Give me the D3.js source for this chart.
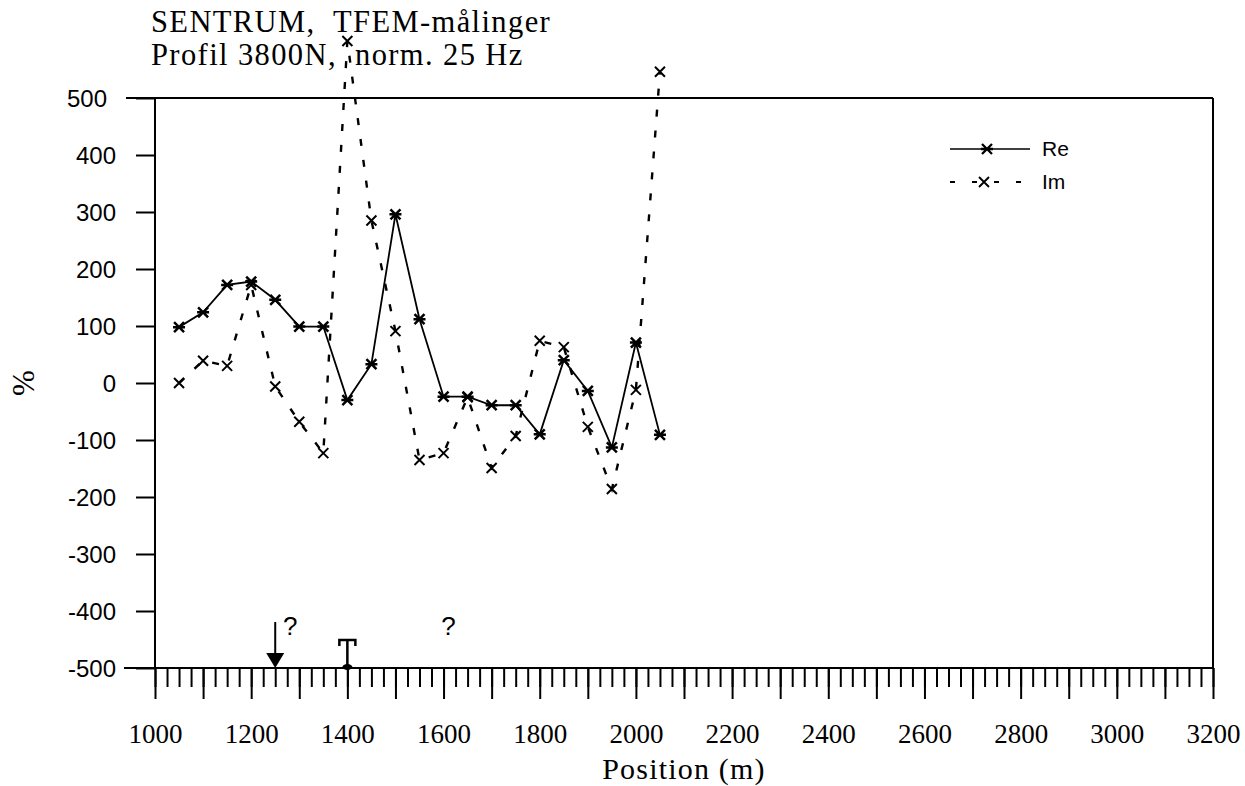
<!DOCTYPE html>
<html>
<head>
<meta charset="utf-8">
<script src="https://cdn.jsdelivr.net/npm/d3@7"></script>
<style>
  body { margin: 0; background: #fff; }
  svg text { white-space: pre; }
</style>
</head>
<body>
<svg id="chart" width="1245" height="786"></svg>
<script>
// Profile positions (m) and normalised TFEM responses (%)
const positions = [1050, 1100, 1150, 1200, 1250, 1300, 1350, 1400, 1450, 1500, 1550,
                   1600, 1650, 1700, 1750, 1800, 1850, 1900, 1950, 2000, 2050];
const reValues = [98, 124, 172, 178, 146, 99, 99, -30, 33, 296, 112,
                  -24, -24, -39, -39, -90, 40, -14, -113, 71, -91];
const imValues = [0, 39, 30, 172, -6, -68, -123, 600, 285, 91, -135,
                  -123, -25, -149, -93, 74, 63, -77, -186, -12, 546];

const xLabelTicks = d3.range(1000, 3201, 200);
const xMidTicks = d3.range(1000, 3201, 100);
const xMinorTicks = d3.range(1000, 3201, 25);
const yTicks = d3.range(-500, 501, 100);

const titleLines = ["SENTRUM,  TFEM-målinger", "Profil 3800N,  norm. 25 Hz"];
const seriesNames = ["Re", "Im"];
const xTitle = "Position (m)";
const yTitle = "%";

// Markers along the profile line
const arrowPos = 1250;
const tPos = 1400;
const queryPos = [1250, 1600];

const serif = "'Liberation Serif', 'Times New Roman', serif";
const sans = "'Liberation Sans', Arial, Helvetica, sans-serif";

const svg = d3.select("#chart");
const x = d3.scaleLinear().domain([1000, 3200]).range([155, 1213]);
const y = d3.scaleLinear().domain([-500, 500]).range([668, 98]);

// Frame: left axis, top and right border, baseline
const frame = svg.append("g").attr("stroke", "#000").attr("stroke-width", 2).attr("fill", "none");
frame.append("line").attr("x1", 126).attr("x2", x(3200)).attr("y1", y(500)).attr("y2", y(500));
frame.append("line").attr("x1", 124).attr("x2", x(3200)).attr("y1", y(-500)).attr("y2", y(-500));
frame.append("line").attr("x1", x(1000)).attr("x2", x(1000)).attr("y1", y(500)).attr("y2", y(-500));
frame.append("line").attr("x1", x(3200)).attr("x2", x(3200)).attr("y1", y(500)).attr("y2", y(-500));

// Y axis
const yAxis = svg.append("g")
  .attr("transform", `translate(${x(1000)},0)`)
  .call(d3.axisLeft(y).tickValues(yTicks).tickSize(19).tickPadding(20)
        .tickFormat(d => String(d)));
yAxis.select(".domain").remove();
yAxis.selectAll(".tick line").attr("stroke", "#000").attr("stroke-width", 2);
yAxis.selectAll(".tick text")
  .attr("font-family", sans).attr("font-size", 24).attr("fill", "#000")
  .attr("x", d => d === 500 ? -48 : -39)
  .attr("dy", "0.36em");

// X axis: minor, mid and labelled ticks
const xMinor = svg.append("g")
  .attr("transform", `translate(0,${y(-500)})`)
  .call(d3.axisBottom(x).tickValues(xMinorTicks).tickSize(19).tickFormat(""));
xMinor.select(".domain").remove();
xMinor.selectAll(".tick line").attr("stroke", "#000").attr("stroke-width", 2);

const xMajor = svg.append("g")
  .attr("transform", `translate(0,${y(-500)})`)
  .call(d3.axisBottom(x).tickValues(xMidTicks).tickSize(31)
        .tickFormat(d => xLabelTicks.includes(d) ? String(d) : ""));
xMajor.select(".domain").remove();
xMajor.selectAll(".tick line").attr("stroke", "#000").attr("stroke-width", 2);
xMajor.selectAll(".tick text")
  .attr("font-family", serif).attr("font-size", 27).attr("fill", "#000")
  .attr("y", 75).attr("dy", 0);

// Axis titles
svg.append("text")
  .attr("x", (x(1000) + x(3200)) / 2).attr("y", 779)
  .attr("text-anchor", "middle")
  .attr("font-family", serif).attr("font-size", 30).attr("letter-spacing", 1.2)
  .text(xTitle);
svg.append("text")
  .attr("transform", `translate(34,${y(0)}) rotate(-90)`)
  .attr("text-anchor", "middle")
  .attr("font-family", serif).attr("font-size", 31)
  .text(yTitle);

// Title
svg.append("g").selectAll("text").data(titleLines).join("text")
  .attr("x", 151).attr("y", (d, i) => 32 + i * 33)
  .attr("font-family", serif).attr("font-size", 30.5)
  .attr("letter-spacing", 1.4)
  .text(d => d);

// Series
const reData = positions.map((p, i) => [p, reValues[i]]);
const imData = positions.map((p, i) => [p, imValues[i]]);
const line = d3.line().x(d => x(d[0])).y(d => y(d[1]));

const starPath = "M-5,-5L5,5M-5,5L5,-5M-6,0L6,0";
const crossPath = "M-5,-5L5,5M-5,5L5,-5";

svg.append("path").datum(imData)
  .attr("d", line).attr("fill", "none").attr("stroke", "#000")
  .attr("stroke-width", 2.4).attr("stroke-dasharray", "7,14");
svg.append("path").datum(reData)
  .attr("d", line).attr("fill", "none").attr("stroke", "#000")
  .attr("stroke-width", 1.8);

svg.append("g").selectAll("path").data(imData).join("path")
  .attr("transform", d => `translate(${x(d[0])},${y(d[1])})`)
  .attr("d", crossPath).attr("stroke", "#000").attr("stroke-width", 2).attr("fill", "none");
svg.append("g").selectAll("path").data(reData).join("path")
  .attr("transform", d => `translate(${x(d[0])},${y(d[1])})`)
  .attr("d", starPath).attr("stroke", "#000").attr("stroke-width", 2.5).attr("fill", "none");

// Legend
const leg = svg.append("g");
leg.append("line").attr("x1", 950).attr("x2", 1030).attr("y1", 149).attr("y2", 149)
  .attr("stroke", "#000").attr("stroke-width", 1.7);
leg.append("path").attr("transform", "translate(987,149)").attr("d", starPath)
  .attr("stroke", "#000").attr("stroke-width", 2.3).attr("fill", "none");
leg.append("line").attr("x1", 950).attr("x2", 1024).attr("y1", 182).attr("y2", 182)
  .attr("stroke", "#000").attr("stroke-width", 2.2).attr("stroke-dasharray", "5,17");
leg.append("path").attr("transform", "translate(984,182)").attr("d", crossPath)
  .attr("stroke", "#000").attr("stroke-width", 1.9).attr("fill", "none");
leg.selectAll("text").data(seriesNames).join("text")
  .attr("x", 1042).attr("y", (d, i) => 156 + i * 33)
  .attr("font-family", sans).attr("font-size", 21)
  .text(d => d);

// Annotations on the baseline
const base = y(-500);
const ann = svg.append("g").attr("stroke", "#000").attr("fill", "#000");
ann.append("line").attr("x1", x(arrowPos)).attr("x2", x(arrowPos))
  .attr("y1", base - 46).attr("y2", base - 12).attr("stroke-width", 2);
ann.append("path")
  .attr("d", `M${x(arrowPos) - 9},${base - 15}L${x(arrowPos) + 9},${base - 15}L${x(arrowPos)},${base}Z`)
  .attr("stroke", "none");

const tx = x(tPos);
ann.append("path")
  .attr("d", `M${tx - 8},${base - 22}L${tx - 8},${base - 28}L${tx + 8},${base - 28}L${tx + 8},${base - 22}M${tx},${base - 28}L${tx},${base - 2}`)
  .attr("fill", "none").attr("stroke-width", 2.5);
ann.append("ellipse").attr("cx", tx).attr("cy", base - 1).attr("rx", 5).attr("ry", 3).attr("stroke", "none");

svg.append("g").selectAll("text").data(queryPos).join("text")
  .attr("x", (d, i) => x(d) + (i === 0 ? 15 : 5)).attr("y", base - 33)
  .attr("text-anchor", "middle")
  .attr("font-family", sans).attr("font-size", 26)
  .text("?");
</script>
</body>
</html>
